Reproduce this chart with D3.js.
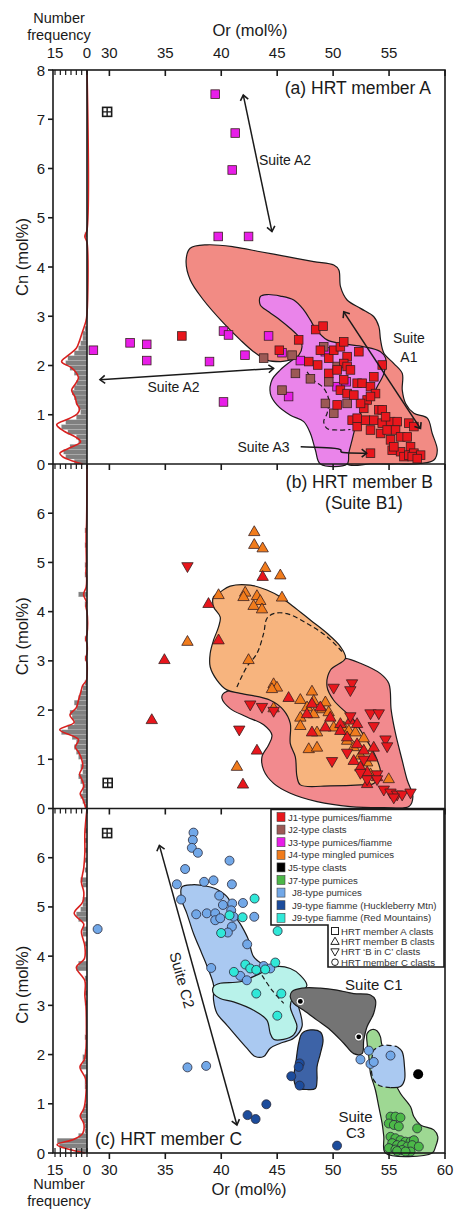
<!DOCTYPE html>
<html><head><meta charset="utf-8">
<script src="https://cdn.jsdelivr.net/npm/d3@7"></script>
<style>body{margin:0;background:#fff}svg{display:block;font-family:"Liberation Sans",Arial,sans-serif}</style>
</head><body><svg id="c" width="457" height="1214"></svg>
<script>
// ---------- DATA ----------
const xTicks = [30,35,40,45,50,55,60];
const xTickLabelsTop = [30,35,40,45,50,55];
const histTicks = [15,12.5,10,7.5,5,2.5,0];
const histTickLabels = [15,0];
const yTicksA = [0,1,2,3,4,5,6,7,8];
const yTicksBC = [0,1,2,3,4,5,6];

// Panel (a) HRT member A - squares
const j1A = [[36.48,2.60],[46.92,2.52],[48.44,2.73],[49.1,2.80],[45.19,2.31],[47.82,2.08],[48.62,2.01],[48.86,2.31],[49.61,2.15],[50.06,2.31],[50.65,2.38],[50.95,2.48],[51.25,2.18],[50.95,2.04],[52.30,2.28],[49.61,1.84],[50.36,1.91],[51.25,1.98],[51.55,1.91],[50.95,1.71],[52.15,1.64],[52.59,1.64],[53.34,1.57],[53.64,1.77],[54.39,2.01],[53.79,1.43],[53.04,1.30],[52.74,1.13],[53.34,1.37],[54.09,1.10],[50.65,1.50],[51.25,1.43],[50.36,1.20],[51.70,0.89],[52.15,0.76],[52.89,0.89],[53.64,0.89],[54.39,0.83],[55.13,0.86],[55.73,0.86],[56.77,0.83],[57.22,0.76],[53.34,0.69],[54.24,0.62],[54.83,0.69],[55.58,0.69],[56.03,0.55],[55.13,0.49],[56.62,0.55],[56.92,0.35],[55.28,0.28],[56.03,0.25],[56.33,0.15],[56.77,0.18],[57.22,0.22],[57.82,0.18],[57.07,0.15],[57.52,0.11],[53.34,0.22],[55.43,0.35],[52.15,0.93],[52.45,1.23],[51.85,1.40],[54.39,1.10],[54.69,0.96]];
const j2A = [[43.79,2.15],[46.33,2.21],[46.63,1.84],[47.97,1.73],[49.61,1.67],[45.43,1.50],[49.31,1.23],[50.06,1.03],[51.25,1.23],[50.36,1.98],[49.16,2.38]];
const j3A = [[39.46,7.51],[41.25,6.72],[40.98,5.97],[39.73,4.62],[42.44,4.62],[28.57,2.31],[31.85,2.46],[33.34,2.43],[33.34,2.10],[38.95,2.08],[40.2,2.70],[40.65,2.62],[42.12,2.21],[44.23,2.60],[40.2,1.26],[45.43,2.26],[47.07,2.10],[49.3,2.28],[51.16,1.67],[50.35,1.57],[46.02,1.37]];
const fieldJ1A = [[37.22,4.38],[38.71,4.45],[41.10,4.41],[43.49,4.31],[45.88,4.21],[48.27,4.11],[50.06,4.04],[50.51,3.94],[50.66,3.60],[51.25,3.33],[52.45,3.16],[53.64,2.99],[54.09,2.79],[54.24,2.52],[54.54,2.25],[55.43,2.04],[56.18,1.84],[56.18,1.50],[56.48,1.23],[57.22,1.03],[58.42,0.93],[58.86,0.62],[59.31,0.28],[59.01,0.08],[57.82,0.01],[55.73,0],[53.34,0],[51.25,0],[50.65,0.49],[50.06,1.30],[48.27,1.98],[46.48,2.11],[45.28,2.08],[44.09,2.11],[42.89,2.28],[41.70,2.52],[40.21,2.86],[38.41,3.33],[37.22,3.74],[36.86,4.14]];
const fieldJ3A = [[43.49,3.40],[44.09,3.44],[45.28,3.41],[46.48,3.33],[47.37,3.13],[47.97,2.92],[48.42,2.75],[49.46,2.52],[50.95,2.44],[52.74,2.38],[54.24,2.28],[54.69,2.15],[54.54,1.84],[53.94,1.57],[53.34,1.30],[52.45,1.03],[52.00,0.76],[51.70,0.49],[51.40,0.22],[51.25,0],[48.86,0],[48.42,0.28],[47.97,0.62],[47.37,0.86],[46.18,0.99],[44.98,1.20],[44.39,1.43],[44.54,1.71],[45.28,1.91],[46.18,2.08],[46.93,2.21],[47.22,2.38],[46.93,2.58],[46.18,2.75],[45.28,2.92],[44.24,3.09],[43.49,3.23]];
const dashA = [[47.67,1.87],[48.27,1.70],[49.16,1.54],[49.61,1.30],[49.46,1.03],[49.16,0.86],[49.46,0.72],[50.36,0.69],[51.55,0.70]];
const arrowsA = [[[41.97,7.49],[44.53,4.72]],[[29.16,1.71],[44.68,1.94]],[[50.95,3.09],[57.81,0.72]]];
const arrowA3 = [[47.1,0.35],[50.2,0.33],[50.9,0.29],[50.4,0.22],[53.0,0.22]];
const errA = [[29.8,7.15]];

// Panel (b) HRT member B
const j4B = [[42.95,5.63],[42.95,5.37],[43.70,5.30],[43.93,4.90],[45.28,4.75],[39.76,4.35],[42.14,4.40],[41.99,4.31],[43.19,4.33],[43.49,4.23],[42.89,4.13],[43.64,4.06],[45.43,4.30],[36.98,3.40],[42.44,3.03],[44.68,2.54],[44.98,2.47],[44.53,2.44],[44.68,2.05],[47.07,2.22],[48.11,2.39],[48.26,2.20],[47.67,2.07],[49.01,2.03],[49.6,1.97],[48.26,1.93],[47.07,1.86],[47.07,1.69],[48.56,1.56],[50.05,1.66],[50.95,1.66],[51.4,1.59],[51.99,1.56],[47.82,1.22],[48.56,1.25],[52.74,1.44],[51.25,1.39],[51.84,1.26],[52.44,1.09],[53.04,0.95],[41.4,0.86],[54.97,0.61],[53.34,0.71],[49.31,2.17]];
const j1B = [[33.79,1.81],[34.92,3.03],[38.86,4.17],[39.76,3.43],[43.7,4.72],[46.02,2.26],[43.19,1.19],[41.94,0.50],[48.11,2.14],[48.86,2.07],[49.75,1.86],[50.65,1.73],[51.54,1.80],[52.14,1.73],[51.25,1.46],[52.14,1.32],[52.74,1.19],[53.63,1.25],[53.48,1.05],[51.84,0.98],[52.44,0.85],[53.04,0.75],[53.93,0.65],[47.66,1.93],[48.11,1.56],[49.31,1.66],[50.65,1.59],[53.04,0.51]];
const j1BinC = [[36.98,4.91],[42.59,2.10],[43.64,2.05],[44.68,1.97],[41.61,1.59],[50.05,2.44],[51.69,2.53],[51.54,2.39],[53.34,1.92],[54.08,1.92],[49.9,0.95],[54.68,1.39],[54.83,1.25],[53.93,0.68],[54.53,0.37],[55.13,0.31],[55.72,0.27],[56.17,0.27],[56.92,0.31],[55.42,0.21],[51.54,1.86],[51.25,1.12],[53.63,1.66],[52.74,0.98],[53.04,0.58],[53.93,0.58],[52.44,0.71]];
const fieldJ4B = [[39.31,4.30],[39.91,4.40],[40.80,4.52],[42.59,4.54],[44.08,4.44],[45.28,4.30],[46.47,4.10],[47.96,3.83],[49.46,3.56],[50.65,3.29],[51.10,3.05],[49.75,2.81],[49.46,2.47],[50.05,2.20],[51.84,1.80],[52.44,1.59],[53.34,1.26],[53.93,0.99],[54.23,0.71],[53.63,0.51],[52.44,0.48],[49.75,0.46],[47.07,0.48],[46.77,0.65],[46.62,1.05],[46.17,1.32],[46.17,1.73],[45.57,2.00],[44.38,2.20],[41.70,2.34],[40.50,2.41],[39.61,2.61],[39.01,2.88],[39.01,3.15],[39.31,3.42],[39.76,3.69],[39.91,3.89],[39.31,4.10]];
const fieldJ1B = [[51.10,3.05],[52.44,2.95],[54.23,2.74],[54.98,2.54],[55.19,2.00],[55.57,1.53],[56.17,0.98],[56.62,0.58],[57.13,0.24],[56.77,0.04],[54.53,0.02],[51.54,0.04],[48.56,0.14],[46.17,0.31],[44.68,0.51],[43.79,0.78],[43.64,1.05],[44.23,1.29],[44.53,1.49],[43.79,1.70],[42.29,1.86],[40.80,2.03],[40.06,2.24],[40.20,2.34],[47.07,2.74],[50.05,3.01]];
const dashB = [[41.40,2.47],[42.29,2.88],[43.19,3.15],[43.79,3.56],[44.08,3.86],[44.68,3.96],[45.87,3.96],[47.66,3.76],[49.46,3.49],[50.95,3.15]];
const errB = [[29.85,0.52]];

// Panel (c) HRT member C - circles
const j8C = [[37.52,6.51],[37.46,6.36],[37.37,6.20],[37.91,6.10],[40.74,5.94],[36.77,5.77],[36.03,5.46],[36.41,5.15],[38.47,5.51],[39.31,5.54],[40.95,5.46],[39.82,5.23],[40.15,5.04],[40.98,5.07],[41.94,5.08],[40.89,4.93],[37.76,4.85],[38.71,4.87],[39.46,4.87],[39.46,4.73],[39.91,4.77],[41.1,4.80],[42.95,4.80],[40.95,4.60],[40.59,4.48],[42.32,4.24],[28.95,4.55],[39.1,3.76],[41.7,3.60],[42.29,3.51],[43.79,3.80],[44.38,3.75],[36.98,1.74],[38.65,1.77],[52.44,1.90],[53.19,2.08],[53.34,1.81],[53.63,1.85],[55.13,1.98]];
const j9rC = [[42.98,5.17],[40.74,4.83],[41.91,4.79],[39.99,4.47],[45.04,4.51],[41.13,3.68],[42.15,3.83],[42.59,3.75],[43.13,3.72],[43.93,3.73],[44.83,3.87],[43.13,3.24],[45.37,3.24],[45.01,2.79]];
const j9hC = [[47.01,1.82],[46.92,1.75],[46.26,1.56],[47.01,1.37],[44.03,0.99],[42.35,0.77],[43.07,0.69],[50.35,0.15]];
const j5C = [[47.07,3.08,"s"],[52.29,2.36,"s"],[57.6,1.60,"b"]];
const j7C = [[55.13,0.74],[55.57,0.74],[56.02,0.72],[54.98,0.60],[55.43,0.57],[55.87,0.54],[57.51,0.50],[55.13,0.33],[55.57,0.30],[56.02,0.26],[56.47,0.23],[56.92,0.23],[57.22,0.26],[55.28,0.20],[55.72,0.16],[56.17,0.16],[56.62,0.13],[57.07,0.16],[57.66,0.13],[54.98,0.10],[55.57,0.07],[56.17,0.06],[56.92,0.03],[55.72,0.04],[56.47,0.03]];
const fieldJ8C = [[36.47,5.40],[37.37,5.45],[38.71,5.42],[39.76,5.34],[40.65,5.17],[41.10,4.87],[41.85,4.60],[42.44,4.33],[42.89,3.99],[43.79,3.82],[45.58,3.58],[46.47,3.24],[47.07,2.84],[47.22,2.57],[46.47,2.33],[45.28,2.23],[44.38,2.13],[43.79,1.96],[43.04,1.96],[42.29,2.13],[41.40,2.36],[40.50,2.60],[39.61,2.84],[39.31,3.11],[39.31,3.41],[38.86,3.72],[38.27,4.05],[37.52,4.46],[36.92,4.87],[36.47,5.14]];
const fieldJ9rC = [[39.31,3.38],[39.91,3.45],[41.70,3.48],[43.49,3.65],[44.68,3.78],[46.17,3.75],[47.07,3.61],[47.66,3.41],[47.37,3.31],[46.47,3.17],[46.17,2.97],[46.47,2.77],[46.77,2.57],[46.47,2.40],[45.58,2.31],[44.68,2.31],[44.38,2.43],[44.08,2.70],[42.89,2.90],[41.10,3.07],[39.91,3.14],[39.31,3.24]];
const dashC1 = [[43.64,3.61],[44.53,3.31],[45.58,3.04]];
const fieldJ5C = [[46.32,3.28],[47.22,3.35],[48.86,3.35],[50.35,3.31],[51.84,3.24],[53.34,3.21],[53.78,3.11],[53.63,2.84],[53.04,2.57],[52.74,2.30],[52.59,2.02],[51.84,2.02],[50.95,2.23],[49.75,2.50],[48.56,2.70],[47.37,2.90],[46.47,3.04],[46.17,3.17]];
const fieldJ9hC = [[47.22,2.43],[47.96,2.50],[48.86,2.46],[49.10,2.30],[48.86,2.02],[48.56,1.75],[48.56,1.48],[48.41,1.31],[47.66,1.29],[46.77,1.33],[46.47,1.55],[46.62,1.75],[46.77,2.02],[46.92,2.23]];
const fieldJ7C = [[53.04,2.43],[53.49,2.51],[53.94,2.48],[54.23,2.36],[54.38,2.19],[55.28,1.96],[55.42,1.69],[55.57,1.42],[56.02,1.21],[56.92,0.94],[57.21,0.74],[57.81,0.57],[59.0,0.47],[59.36,0.33],[59.16,0.13],[58.86,0],[54.68,0],[54.53,0.33],[54.38,0.60],[54.08,0.94],[53.78,1.28],[53.34,1.62],[53.19,1.96],[53.04,2.23]];
const fieldJ8smallC = [[53.63,2.09],[54.53,2.19],[55.73,2.16],[56.17,2.06],[56.38,1.75],[56.38,1.48],[56.02,1.35],[55.13,1.33],[54.23,1.36],[53.63,1.48],[53.40,1.75],[53.49,1.96]];
const arrowC2 = [[34.47,6.25],[41.4,0.57]];
const errC = [[29.8,6.5]];

// Histograms (bin start Cn, bin width 0.1, count) and density curves (Cn, count)
const histA = [[0,6],[0.1,10],[0.2,11],[0.3,8],[0.4,4],[0.5,5],[0.6,9],[0.7,12],[0.8,10],[0.9,5],[1.0,3],[1.1,4],[1.2,5],[1.3,6],[1.4,7],[1.5,6],[1.6,5],[1.7,4],[1.8,6],[1.9,8],[2.0,10],[2.1,9],[2.2,6],[2.3,4],[2.4,3],[2.5,2],[2.6,2],[2.7,1],[4.6,1]];
const kdeA = [[0,2],[0.05,6],[0.15,11.5],[0.22,12.7],[0.32,8.5],[0.45,3],[0.55,5.5],[0.66,10.5],[0.8,14.2],[0.92,8.5],[1.02,4.5],[1.12,3.5],[1.22,4.8],[1.35,5.5],[1.5,7.2],[1.62,5.5],[1.75,4],[1.85,5],[1.96,7.5],[2.08,11.9],[2.2,9],[2.35,5],[2.5,3.5],[2.7,2],[2.9,0.5],[3.05,0],[4.5,0],[4.62,1],[4.75,0],[8,0]];
const histB = [[0,1],[0.1,2],[0.2,3],[0.3,2],[0.4,2],[0.5,3],[0.6,4],[0.7,2],[0.8,3],[0.9,2],[1.0,4],[1.1,5],[1.2,6],[1.3,5],[1.4,7],[1.5,12],[1.6,9],[1.7,6],[1.8,7],[1.9,8],[2.0,5],[2.1,6],[2.2,4],[2.3,3],[2.4,2],[2.5,1],[3.0,1],[3.4,1],[4.1,1],[4.3,4],[4.7,1],[4.9,1],[5.3,1],[5.6,1]];
const kdeB = [[0,0.5],[0.2,2],[0.3,3.2],[0.45,1.5],[0.6,2.5],[0.7,3.5],[0.85,2],[1.0,2.5],[1.15,4],[1.25,5.5],[1.4,4],[1.6,12.8],[1.75,6],[1.9,8],[2.05,5],[2.2,4],[2.35,3],[2.5,2],[2.6,0.3],[2.7,0],[2.95,0],[3.05,0.6],[3.15,0],[3.35,0],[3.45,0.6],[3.55,0],[4.0,0],[4.1,0.5],[4.2,0.3],[4.35,1.6],[4.5,0.4],[4.7,0.2],[4.8,0.5],[4.95,0.3],[5.3,0.4],[5.6,0.4],[5.8,0.2],[7,0]];
const histC = [[0,5],[0.1,13],[0.2,14],[0.3,4],[0.4,1],[0.5,1],[0.6,2],[0.7,3],[0.8,2],[0.9,1],[1.3,1],[1.4,1],[1.5,1],[1.7,3],[1.8,2],[1.9,2],[2.0,1],[2.3,1],[3.0,1],[3.2,1],[3.5,1],[3.7,5],[3.8,4],[4.2,1],[4.4,2],[4.5,2],[4.7,4],[4.8,5],[4.9,3],[5.0,2],[5.1,2],[5.4,2],[5.5,3],[5.7,1],[5.9,1],[6.1,1],[6.3,1],[6.5,1]];
const kdeC = [[0,1],[0.08,9],[0.17,14],[0.28,6],[0.4,2],[0.6,1.5],[0.75,3.2],[0.9,1.5],[1.2,0.5],[1.5,0.6],[1.75,3.3],[1.9,1.2],[2.1,0.5],[2.5,0.3],[3.0,0.5],[3.2,1],[3.5,1],[3.77,5],[3.95,1.2],[4.2,1],[4.5,2.6],[4.65,1.5],[4.87,6],[5.1,2],[5.3,1.5],[5.5,2.6],[5.8,1.5],[6.1,1],[6.5,1],[7,0]];

const colors = {J1:"#e8161c",J2:"#9c5955",J3:"#e81ee8",J4:"#f17c1c",J5:"#000000",J7:"#4cb848",J8:"#72a8e8",J9h:"#1c4c9c",J9r:"#30e8d8"};
const fieldColors = {J1a:"#f28b84",J3a:"#ea84ea",J4b:"#f7b47e",J1b:"#f28a8e",J8c:"#aac9f1",J9rc:"#b8f2ea",J5c:"#747474",J9hc:"#3d63a7",J7c:"#9ed893"};

const legendFill = [["J1-type pumices/fiamme","J1"],["J2-type clasts","J2"],["J3-type pumices/fiamme","J3"],["J4-type mingled pumices","J4"],["J5-type clasts","J5"],["J7-type pumices","J7"],["J8-type pumices","J8"],["J9-type fiamme (Huckleberry Mtn)","J9h"],["J9-type fiamme (Red Mountains)","J9r"]];
const legendShape = [["HRT member A clasts","square"],["HRT member B clasts","up"],["HRT \u2018B in C\u2019 clasts","down"],["HRT member C clasts","circle"]];

// ---------- DRAW ----------
const svg = d3.select("#c");
const x = d3.scaleLinear([28,60],[87,445]);
const hx = d3.scaleLinear([0,15],[87,55]);
const ya = d3.scaleLinear([0,8],[464,70]);
const yb = d3.scaleLinear([0,7],[808.5,464]);
const yc = d3.scaleLinear([0,7],[1153,808.5]);
const INK = "#1a1a1a";

const defs = svg.append("defs");
defs.append("marker").attr("id","ah").attr("viewBox","-6 -6 12 12").attr("markerWidth",12).attr("markerHeight",12)
  .attr("markerUnits","userSpaceOnUse").attr("orient","auto-start-reverse").attr("refX",1).attr("refY",0)
  .append("path").attr("d","M-4,-4 L1,0 L-4,4").attr("fill","none").attr("stroke",INK).attr("stroke-width",1.6);

function field(g,data,y,fill,opt={}){
  g.append("path").attr("d",d3.line().x(d=>x(d[0])).y(d=>y(d[1])).curve(d3.curveCatmullRomClosed.alpha(0.5))(data))
   .attr("fill",fill).attr("stroke",opt.stroke===false?"none":INK).attr("stroke-width",1.2);
}
function dashed(g,data,y){
  g.append("path").attr("d",d3.line().x(d=>x(d[0])).y(d=>y(d[1])).curve(d3.curveCatmullRom)(data))
   .attr("fill","none").attr("stroke",INK).attr("stroke-width",1.2).attr("stroke-dasharray","5,3");
}
function arrow(g,pts,y,curve){
  g.append("path").attr("d",d3.line().x(d=>x(d[0])).y(d=>y(d[1])).curve(curve||d3.curveLinear)(pts))
   .attr("fill","none").attr("stroke",INK).attr("stroke-width",1.5)
   .attr("marker-end","url(#ah)").attr("marker-start",curve?null:"url(#ah)");
}
const triUp = d3.symbol(d3.symbolTriangle,56)();
function points(g,data,y,shape,fill){
  const sel = g.append("g").selectAll("x").data(data).enter();
  if(shape==="square"){
    sel.append("rect").attr("x",d=>x(d[0])-4.3).attr("y",d=>y(d[1])-4.3).attr("width",8.6).attr("height",8.6)
      .attr("fill",fill).attr("stroke","#3a2020").attr("stroke-width",0.8);
  } else if(shape==="up"||shape==="down"){
    sel.append("path").attr("d",triUp)
      .attr("transform",d=>`translate(${x(d[0])},${y(d[1])+(shape==="up"?0.9:-0.9)})${shape==="down"?" rotate(180)":""}`)
      .attr("fill",fill).attr("stroke","#3a2020").attr("stroke-width",0.8);
  } else {
    sel.append("circle").attr("cx",d=>x(d[0])).attr("cy",d=>y(d[1])).attr("r",4.5)
      .attr("fill",fill).attr("stroke","#2a2a3a").attr("stroke-width",0.8);
  }
}
function errSym(g,data,y){
  data.forEach(d=>{
    const cx=x(d[0]), cy=y(d[1]);
    g.append("rect").attr("x",cx-4.5).attr("y",cy-4.5).attr("width",9).attr("height",9).attr("fill","#fff").attr("stroke",INK).attr("stroke-width",1.6);
    g.append("path").attr("d",`M${cx-4.5},${cy}H${cx+4.5}M${cx},${cy-4.5}V${cy+4.5}`).attr("stroke",INK).attr("stroke-width",1.4);
  });
}
function text(g,t,px,py,opt={}){
  return g.append("text").attr("x",px).attr("y",py).text(t).attr("font-size",opt.size||14)
    .attr("text-anchor",opt.anchor||"middle").attr("fill",opt.fill||"#1a1a1a");
}
function hist(g,bins,kde,y){
  g.append("g").selectAll("rect").data(bins).enter().append("rect")
    .attr("x",d=>hx(d[1])).attr("width",d=>hx(0)-hx(d[1]))
    .attr("y",d=>y(d[0]+0.1)).attr("height",d=>y(d[0])-y(d[0]+0.1))
    .attr("fill","#808080").attr("stroke","#ddd").attr("stroke-width",0.2);
  g.append("path").attr("d",d3.line().x(d=>hx(d[1])).y(d=>y(d[0])).curve(d3.curveCatmullRom)(kde))
    .attr("fill","none").attr("stroke","#d8201e").attr("stroke-width",1.6);
}

// Panel a
const ga = svg.append("g");
field(ga,fieldJ1A,ya,fieldColors.J1a);
field(ga,fieldJ3A,ya,fieldColors.J3a);
dashed(ga,dashA,ya);
points(ga,j3A,ya,"square",colors.J3);
points(ga,j2A,ya,"square",colors.J2);
points(ga,j1A,ya,"square",colors.J1);
arrowsA.forEach(a=>arrow(ga,a,ya));
arrow(ga,arrowA3,ya,d3.curveBasis);
errSym(ga,errA,ya);
hist(ga,histA,kdeA,ya);

// Panel b
const gb = svg.append("g");
field(gb,fieldJ1B,yb,fieldColors.J1b);
field(gb,fieldJ4B,yb,fieldColors.J4b);
dashed(gb,dashB,yb);
points(gb,j4B,yb,"up",colors.J4);
points(gb,j1B,yb,"up",colors.J1);
points(gb,j1BinC,yb,"down",colors.J1);
errSym(gb,errB,yb);
hist(gb,histB,kdeB,yb);

// Panel c
const gc = svg.append("g");
field(gc,fieldJ8C,yc,fieldColors.J8c);
field(gc,fieldJ9rC,yc,fieldColors.J9rc);
dashed(gc,dashC1,yc);
field(gc,fieldJ5C,yc,fieldColors.J5c);
field(gc,fieldJ9hC,yc,fieldColors.J9hc);
field(gc,fieldJ7C,yc,fieldColors.J7c);
field(gc,fieldJ8smallC,yc,fieldColors.J8c,{stroke:false});
gc.append("path").attr("d",d3.line().x(d=>x(d[0])).y(d=>yc(d[1])).curve(d3.curveCatmullRom)(fieldJ8smallC.slice(2,8)))
  .attr("fill","none").attr("stroke",INK).attr("stroke-width",1.2);
dashed(gc,fieldJ8smallC.slice(7).concat(fieldJ8smallC.slice(0,3)),yc);
points(gc,j8C,yc,"circle",colors.J8);
points(gc,j9rC,yc,"circle",colors.J9r);
points(gc,j9hC,yc,"circle",colors.J9h);
points(gc,j7C,yc,"circle",colors.J7);
j5C.forEach(d=>{
  if(d[2]==="b"){
    gc.append("circle").attr("cx",x(d[0])).attr("cy",yc(d[1])).attr("r",5).attr("fill","#000");
  } else {
    gc.append("circle").attr("cx",x(d[0])).attr("cy",yc(d[1])).attr("r",4.2).attr("fill","#fff").attr("stroke","#555").attr("stroke-width",0.8);
    gc.append("circle").attr("cx",x(d[0])).attr("cy",yc(d[1])).attr("r",2.4).attr("fill","#000");
  }
});
arrow(gc,arrowC2,yc);
errSym(gc,errC,yc);
hist(gc,histC,kdeC,yc);

// Suite labels
text(svg,"Suite A2",x(45.7),ya(6.17)+5);
text(svg,"Suite A2",x(35.73),ya(1.57)+5);
text(svg,"Suite",x(56.77),ya(2.56)+5);
text(svg,"A1",x(56.77),ya(2.18)+5);
text(svg,"Suite A3",x(43.78),ya(0.35)+5);
text(svg,"Suite C1",x(53.64),yc(3.41)+5,{size:15});
text(svg,"Suite",x(52.0),yc(0.74)+5,{size:15});
text(svg,"C3",x(52.0),yc(0.40)+5,{size:15});
text(svg,"Suite C2",0,5,{size:15}).attr("transform",`translate(${x(36.47)},${yc(3.51)}) rotate(74.5)`);

// Panel labels
text(svg,"(a) HRT member A",431,94,{size:17.5,anchor:"end"});
text(svg,"(b) HRT member B",433,488,{size:17.5,anchor:"end"});
text(svg,"(Suite B1)",364,509,{size:17.5});
text(svg,"(c) HRT member C",95,1145,{size:17.5,anchor:"start"});

// Frames
const fr = svg.append("g").attr("fill","none").attr("stroke",INK).attr("stroke-width",1.6);
fr.append("rect").attr("x",53).attr("y",ya(8)).attr("width",x(60)-53).attr("height",yc(0)-ya(8));
fr.append("line").attr("x1",hx(0)).attr("x2",hx(0)).attr("y1",ya(8)).attr("y2",yc(0));
fr.append("line").attr("x1",53).attr("x2",x(60)).attr("y1",ya(0)).attr("y2",ya(0));
fr.append("line").attr("x1",53).attr("x2",x(60)).attr("y1",yb(0)).attr("y2",yb(0));

// x ticks at the top of each panel (inward) and bottom (outward)
[ya(8),ya(0),yb(0)].forEach(py=>{
  xTicks.forEach(t=>fr.append("line").attr("x1",x(t)).attr("x2",x(t)).attr("y1",py).attr("y2",py+6));
  histTicks.forEach(t=>fr.append("line").attr("x1",hx(t)).attr("x2",hx(t)).attr("y1",py).attr("y2",py+5).attr("stroke-width",1.2));
});
xTicks.forEach(t=>fr.append("line").attr("x1",x(t)).attr("x2",x(t)).attr("y1",yc(0)).attr("y2",yc(0)+6));
histTicks.forEach(t=>fr.append("line").attr("x1",hx(t)).attr("x2",hx(t)).attr("y1",yc(0)-5).attr("y2",yc(0)+4).attr("stroke-width",1.2));

// y ticks
[[ya,yTicksA,-10],[yb,yTicksBC,0],[yc,yTicksBC,4]].forEach(([y,ticks,off])=>{
  ticks.forEach(t=>{
    fr.append("line").attr("x1",48).attr("x2",53).attr("y1",y(t)).attr("y2",y(t));
    text(svg,String(t),45,y(t)+5.5,{size:15,anchor:"end"});
  });
  text(svg,"Cn (mol%)",0,0,{size:16.5}).attr("transform",`translate(28,${(y.range()[0]+y.range()[1])/2 + off}) rotate(-90)`);
});

// tick labels top and bottom
xTickLabelsTop.forEach(t=>text(svg,String(t),x(t),58,{size:15}));
histTickLabels.forEach(t=>text(svg,String(t),hx(t),58,{size:15}));
xTicks.forEach(t=>text(svg,String(t),x(t),1175,{size:15}));
histTickLabels.forEach(t=>text(svg,String(t),hx(t),1175,{size:15}));
text(svg,"Or (mol%)",250,36,{size:16.5});
text(svg,"Or (mol%)",249,1195,{size:16.5});
text(svg,"Number",59,23,{size:14.5});
text(svg,"frequency",59,40,{size:14.5});
text(svg,"Number",59,1189,{size:14.5});
text(svg,"frequency",59,1206,{size:14.5});

// Legend
const lg = svg.append("g");
lg.append("path").attr("d","M271,809.5H444V967H328V925H271Z").attr("fill","#fff").attr("stroke",INK).attr("stroke-width",1.6);
legendFill.forEach((d,i)=>{
  const py = 817 + i*12.6;
  lg.append("rect").attr("x",277).attr("y",py-4.5).attr("width",8).attr("height",9).attr("fill",colors[d[1]]).attr("stroke","#444").attr("stroke-width",0.6);
  text(lg,d[0],i<6?288:292,py+3.5,{size:9.6,anchor:"start",fill:"#333"});
});
legendShape.forEach((d,i)=>{
  const py = 931 + i*10.4;
  const cx = 335;
  if(d[1]==="square") lg.append("rect").attr("x",cx-3.5).attr("y",py-3.5).attr("width",7).attr("height",7).attr("fill","#fff").attr("stroke","#222");
  else if(d[1]==="circle") lg.append("circle").attr("cx",cx).attr("cy",py).attr("r",3.3).attr("fill","#fff").attr("stroke","#222");
  else lg.append("path").attr("d",d3.symbol(d3.symbolTriangle,30)()).attr("transform",`translate(${cx},${py+(d[1]==="up"?0.6:-0.6)})${d[1]==="down"?" rotate(180)":""}`).attr("fill","#fff").attr("stroke","#222");
  text(lg,d[0],341,py+3.5,{size:9.6,anchor:"start",fill:"#333"});
});
</script></body></html>
